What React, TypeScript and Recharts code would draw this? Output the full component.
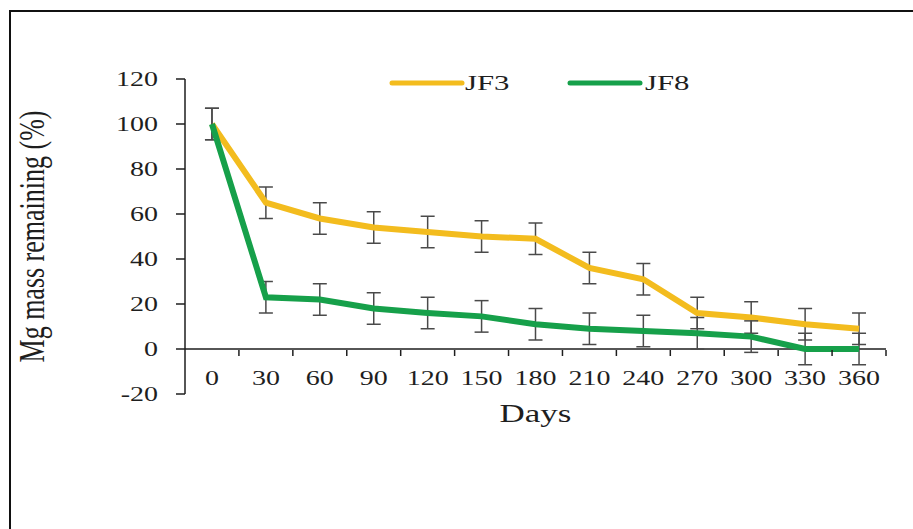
import { LineChart, Line, XAxis, YAxis, ErrorBar, ReferenceLine, Legend } from 'recharts';

const days = [0, 30, 60, 90, 120, 150, 180, 210, 240, 270, 300, 330, 360];
const jf3 = [100, 65, 58, 54, 52, 50, 49, 36, 31, 16, 14, 11, 9];
const jf8 = [100, 23, 22, 18, 16, 14.5, 11, 9, 8, 7, 5.5, 0, 0];
const jf3Err = [7, 7, 7, 7, 7, 7, 7, 7, 7, 7, 7, 7, 7];
const jf8Err = [7, 7, 7, 7, 7, 7, 7, 7, 7, 7, 7, 7, 7];
const yTicks = [-20, 0, 20, 40, 60, 80, 100, 120];

const data = days.map((day, i) => ({
  day,
  jf3: jf3[i],
  jf8: jf8[i],
  jf3Err: jf3Err[i],
  jf8Err: jf8Err[i],
}));

// tick marks sit on the boundaries between the day groups
const markTicks = days.map((d) => d + 15);

const W = 913;
const H = 529;
const TOP = 79;
const BOTTOM = 394;
const Y_MIN = -20;
const Y_MAX = 120;
// distance from the plot bottom up to the zero line
const ZERO_SHIFT = ((BOTTOM - TOP) * (0 - Y_MIN)) / (Y_MAX - Y_MIN);

const FONT = '"Liberation Serif", "Times New Roman", serif';
const STRETCH = 1.4;
const YELLOW = '#F3BC1E';
const GREEN = '#16A04A';
const INK = '#1e1e1e';

const YTick = ({ x, y, payload }: any) => (
  <g transform={`translate(${x},${y}) scale(${STRETCH},1)`}>
    <text textAnchor="end" dy="0.34em" fontSize={20} fill={INK} fontFamily={FONT}>
      {payload.value}
    </text>
  </g>
);

const DayTick = ({ x, y, payload }: any) => (
  <g transform={`translate(${x},${y - ZERO_SHIFT + 36}) scale(${STRETCH},1)`}>
    <text textAnchor="middle" fontSize={20} fill={INK} fontFamily={FONT}>
      {payload.value}
    </text>
  </g>
);

const MarkTick = ({ x, y }: any) => (
  <line x1={x} x2={x} y1={y - ZERO_SHIFT} y2={y - ZERO_SHIFT + 6} stroke={INK} strokeWidth={1.5} />
);

const DaysLabel = ({ viewBox }: any) => (
  <g transform={`translate(${viewBox.x + viewBox.width / 2},${viewBox.y + 28}) scale(${STRETCH},1)`}>
    <text textAnchor="middle" fontSize={25} fill={INK} fontFamily={FONT}>
      Days
    </text>
  </g>
);

const MassLabel = ({ viewBox }: any) => (
  <g transform={`translate(${viewBox.x - 41},${viewBox.y + viewBox.height / 2}) scale(${STRETCH},1) rotate(-90)`}>
    <text textAnchor="middle" fontSize={26} fill={INK} fontFamily={FONT}>
      Mg mass remaining (%)
    </text>
  </g>
);

const LegendContent = () => (
  <svg width={330} height={30} style={{ display: 'block' }}>
    <line x1={14} x2={84} y1={15} y2={15} stroke={YELLOW} strokeWidth={5} strokeLinecap="round" />
    <g transform={`translate(87,22) scale(${STRETCH},1)`}>
      <text fontSize={22} fill={INK} fontFamily={FONT}>JF3</text>
    </g>
    <line x1={192} x2={262} y1={15} y2={15} stroke={GREEN} strokeWidth={5} strokeLinecap="round" />
    <g transform={`translate(267,22) scale(${STRETCH},1)`}>
      <text fontSize={22} fill={INK} fontFamily={FONT}>JF8</text>
    </g>
  </svg>
);

export default function App() {
  return (
    <div style={{ position: 'absolute', left: 0, top: 0, width: W, height: H, background: '#fff' }}>
      <div
        style={{
          position: 'absolute',
          left: 9,
          top: 10,
          width: W - 9,
          height: H - 10,
          borderLeft: '2px solid #111',
          borderTop: '2px solid #111',
          boxSizing: 'border-box',
        }}
      />
      <LineChart
        width={W}
        height={H}
        data={data}
        margin={{ top: TOP, right: 27, bottom: H - BOTTOM - 2, left: 85 }}
      >
        <XAxis
          xAxisId="days"
          dataKey="day"
          type="number"
          domain={[-15, 375]}
          ticks={days}
          interval={0}
          height={1}
          axisLine={false}
          tickLine={false}
          tickSize={0}
          tickMargin={0}
          tick={<DayTick />}
          label={{ content: DaysLabel }}
        />
        <XAxis
          xAxisId="marks"
          dataKey="day"
          type="number"
          domain={[-15, 375]}
          ticks={markTicks}
          interval={0}
          height={1}
          axisLine={false}
          tickLine={false}
          tickSize={0}
          tickMargin={0}
          tick={<MarkTick />}
        />
        <YAxis
          type="number"
          domain={[Y_MIN, Y_MAX]}
          ticks={yTicks}
          interval={0}
          width={100}
          stroke={INK}
          axisLine={{ stroke: INK, strokeWidth: 1.5 }}
          tickLine={{ stroke: INK, strokeWidth: 1.5 }}
          tickSize={9}
          tickMargin={18}
          tick={<YTick />}
          label={{ content: MassLabel }}
        />
        <ReferenceLine xAxisId="days" y={0} stroke={INK} strokeWidth={1.5} />
        <Legend
          layout="vertical"
          verticalAlign="middle"
          align="center"
          wrapperStyle={{ top: 68, left: 378, width: 330 }}
          content={LegendContent}
        />
        <Line
          xAxisId="days"
          dataKey="jf3"
          name="JF3"
          stroke={YELLOW}
          strokeWidth={6}
          dot={false}
          isAnimationActive={false}
        >
          <ErrorBar dataKey="jf3Err" width={7} stroke="#4a4a4a" strokeWidth={1.5} isAnimationActive={false} />
        </Line>
        <Line
          xAxisId="days"
          dataKey="jf8"
          name="JF8"
          stroke={GREEN}
          strokeWidth={6}
          dot={false}
          isAnimationActive={false}
        >
          <ErrorBar dataKey="jf8Err" width={7} stroke="#4a4a4a" strokeWidth={1.5} isAnimationActive={false} />
        </Line>
      </LineChart>
    </div>
  );
}
